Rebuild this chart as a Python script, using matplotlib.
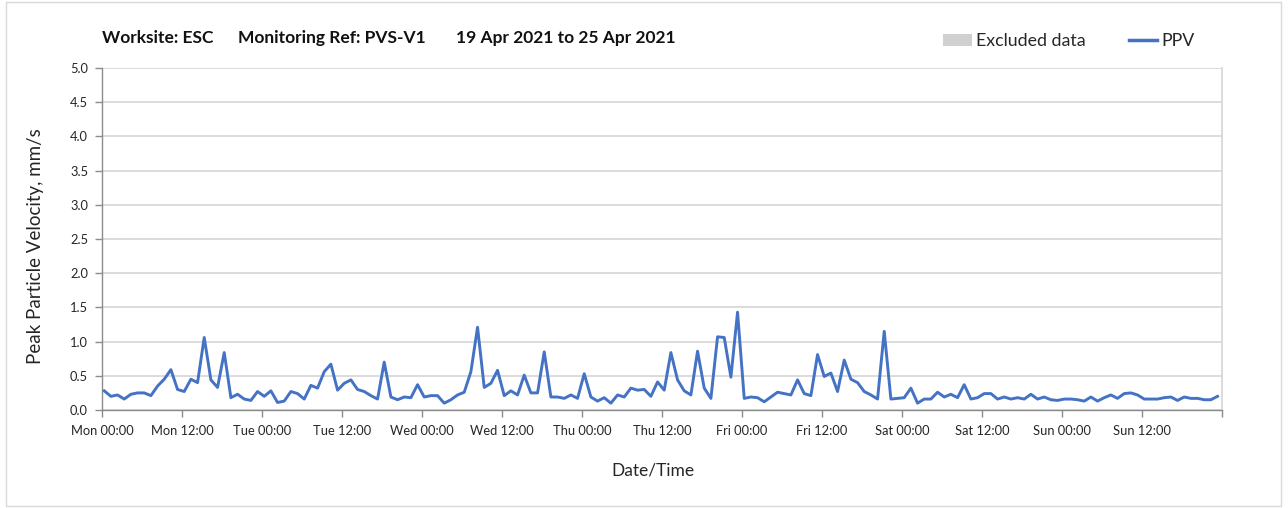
import numpy as np
import matplotlib
matplotlib.use("Agg")
import matplotlib.pyplot as plt
import matplotlib.dates as mdates
from matplotlib.patches import Patch, Rectangle
from matplotlib.lines import Line2D

plt.rcParams['font.family'] = ['Lato', 'DejaVu Sans']

# Hourly peak particle velocity readings, mm/s (19-25 Apr 2021)
ppv = [
    0.28, 0.20, 0.22, 0.16, 0.23, 0.25, 0.25, 0.21, 0.35, 0.45, 0.59, 0.30,
    0.27, 0.45, 0.40, 1.06, 0.44, 0.33, 0.84, 0.18, 0.23, 0.16, 0.14, 0.27,
    0.20, 0.28, 0.11, 0.13, 0.27, 0.24, 0.16, 0.36, 0.32, 0.56, 0.67, 0.29,
    0.39, 0.44, 0.30, 0.27, 0.21, 0.16, 0.70, 0.19, 0.15, 0.19, 0.18, 0.37,
    0.19, 0.21, 0.21, 0.10, 0.15, 0.22, 0.26, 0.56, 1.21, 0.33, 0.39, 0.58,
    0.21, 0.28, 0.22, 0.51, 0.25, 0.25, 0.85, 0.19, 0.19, 0.17, 0.22, 0.17,
    0.53, 0.19, 0.13, 0.18, 0.10, 0.22, 0.19, 0.32, 0.29, 0.30, 0.20, 0.41,
    0.29, 0.84, 0.44, 0.28, 0.22, 0.86, 0.32, 0.17, 1.07, 1.06, 0.48, 1.43,
    0.17, 0.19, 0.18, 0.12, 0.19, 0.26, 0.24, 0.22, 0.44, 0.24, 0.21, 0.81,
    0.49, 0.54, 0.27, 0.73, 0.45, 0.40, 0.27, 0.22, 0.16, 1.15, 0.16, 0.17,
    0.18, 0.32, 0.10, 0.16, 0.16, 0.26, 0.19, 0.23, 0.18, 0.37, 0.16, 0.18,
    0.24, 0.24, 0.16, 0.19, 0.16, 0.18, 0.16, 0.23, 0.16, 0.19, 0.15, 0.14,
    0.16, 0.16, 0.15, 0.13, 0.19, 0.13, 0.18, 0.22, 0.17, 0.24, 0.25, 0.22,
    0.16, 0.16, 0.16, 0.18, 0.19, 0.14, 0.19, 0.17, 0.17, 0.15, 0.15, 0.20,
]
start = np.datetime64('2021-04-19T00:20')
times = start + np.arange(len(ppv)) * np.timedelta64(1, 'h')
x_start = np.datetime64('2021-04-19T00:00')
x_end = np.datetime64('2021-04-26T00:00')

title_parts = ["Worksite: ESC", "Monitoring Ref: PVS-V1", "19 Apr 2021 to 25 Apr 2021"]
title_x = [102, 238, 456]
y_label = "Peak Particle Velocity, mm/s"
x_label = "Date/Time"
y_ticks = np.arange(0, 5.01, 0.5)

line_color = '#4472C4'
grid_color = '#d9d9d9'
axis_color = '#8c8c8c'
text_color = '#262626'

W, H = 1288, 508
fig = plt.figure(figsize=(W / 100, H / 100), dpi=100)
ax = fig.add_axes([102 / W, 1 - 410 / H, (1222 - 102) / W, (410 - 68) / H])

# outer chart frame
fig.patches.append(Rectangle((6 / W, 2 / H), (1281 - 6) / W, (506 - 2) / H,
                             transform=fig.transFigure, fill=False,
                             edgecolor='#d9d9d9', lw=1.0))

ax.plot(times.astype('datetime64[m]').astype(object), ppv, color=line_color, lw=2.1,
        solid_joinstyle='round', zorder=3)

ax.set_xlim(x_start.astype(object), x_end.astype(object))
ax.set_ylim(0, 5)
ax.set_yticks(y_ticks)
ax.set_yticklabels([f"{v:.1f}" for v in y_ticks])

# 12-hourly tick marks, daily vertical gridlines
ax.xaxis.set_major_locator(mdates.HourLocator(byhour=[0, 12]))
ax.xaxis.set_major_formatter(mdates.DateFormatter('%a %H:%M'))
ax.xaxis.set_minor_locator(mdates.DayLocator())
ax.grid(True, axis='y', color=grid_color, lw=1.3, zorder=0)
ax.grid(True, axis='x', which='minor', color=grid_color, lw=1.3, zorder=0)
ax.grid(False, axis='x', which='major')
ax.tick_params(axis='x', which='minor', length=0)
ax.tick_params(axis='both', which='major', direction='out', length=5, width=1,
               color=axis_color, labelsize=9.3, labelcolor=text_color)
ax.tick_params(axis='x', pad=6)
ax.tick_params(axis='y', pad=5)

ax.spines['top'].set_visible(False)
ax.spines['right'].set_color(grid_color)
ax.spines['right'].set_linewidth(1.3)
for s in ['left', 'bottom']:
    ax.spines[s].set_color(axis_color)
    ax.spines[s].set_linewidth(1.0)

fig.canvas.draw()
labels = ax.get_xticklabels()
if labels:
    labels[-1].set_visible(False)

ax.set_ylabel(y_label, fontsize=13.5, color=text_color)
ax.yaxis.set_label_coords((36 - 102) / (1222 - 102), 0.48)
ax.set_xlabel(x_label, fontsize=12.5, color=text_color)
ax.xaxis.set_label_coords((653 - 102) / (1222 - 102), -(470 - 410) / (410 - 68))
ax.xaxis.label.set_va('center')
ax.yaxis.label.set_va('center')

for part, px in zip(title_parts, title_x):
    fig.text(px / W, 1 - 38 / H, part, fontsize=12.5, fontweight='bold',
             color='#111111', ha='left', va='center')

handles = [Patch(facecolor='#d0d0d0', edgecolor='none', label='Excluded data'),
           Line2D([], [], color=line_color, lw=2.5, label='PPV')]
fig.legend(handles=handles, loc='center', bbox_to_anchor=(1069 / W, 1 - 41 / H),
           ncol=2, frameon=False, fontsize=12.8, handlelength=1.6, handleheight=0.7,
           handletextpad=0.25, columnspacing=2.4, labelcolor=text_color)

fig.savefig('out.png', dpi=100)
